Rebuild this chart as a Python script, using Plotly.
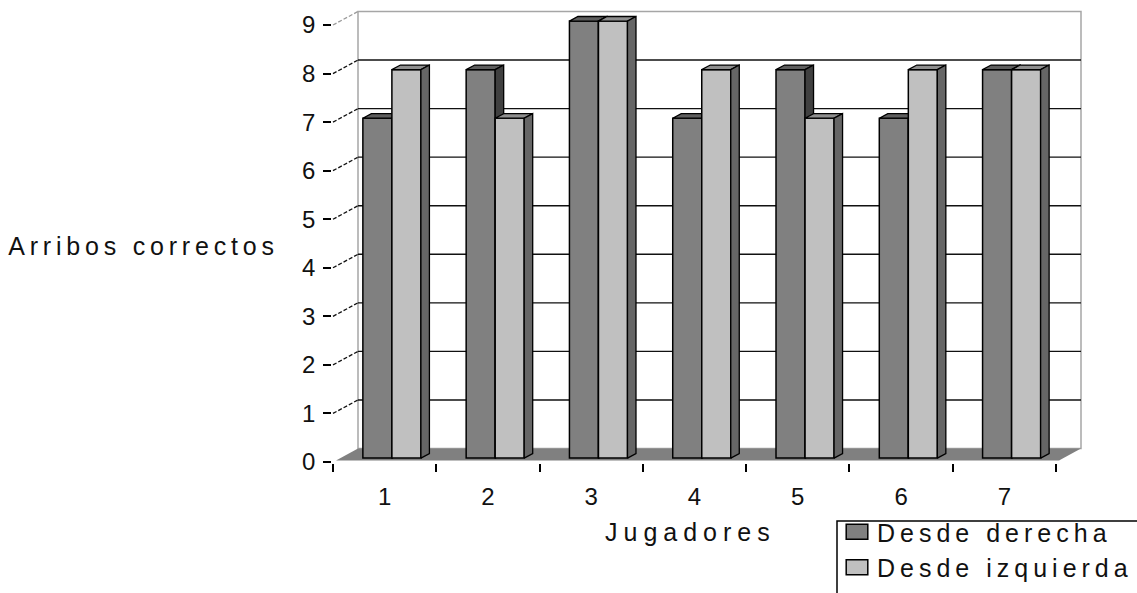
import plotly.graph_objects as go

# ---- data -------------------------------------------------------------
jugadores = ["1", "2", "3", "4", "5", "6", "7"]
desde_derecha = [7, 8, 9, 7, 8, 7, 8]
desde_izquierda = [8, 7, 9, 8, 7, 8, 8]
y_ticks = list(range(10))

# ---- canvas / pseudo-3D frame geometry --------------------------------
W, H = 1137, 593
FX0, FX1 = 333, 1056          # front x axis, pixel span
FY0, FY9 = 462, 25            # front y axis, pixel positions of 0 and 9
PX_X = (FX1 - FX0) / 7.0
PX_Y = (FY0 - FY9) / 9.0
X_RANGE = [-FX0 / PX_X, (W - FX0) / PX_X]
Y_RANGE = [-(H - FY0) / PX_Y, FY0 / PX_Y]

DEPTH_X = 25 / PX_X           # depth vector of the box, data units
DEPTH_Y = 13.5 / PX_Y
BAR_FRONT = 0.29              # depth fraction of the bar front faces
BAR_BACK = 0.63               # depth fraction of the bar back faces
BAR_W = 0.281
Y_TOP = 9

DARK = dict(front="#808080", top="#5e5e5e", side="#404040")
LIGHT = dict(front="#c0c0c0", top="#8e8e8e", side="#666666")
FONT = "Liberation Sans, Arial, sans-serif"

ox, oy = BAR_FRONT * DEPTH_X, BAR_FRONT * DEPTH_Y
ddx, ddy = (BAR_BACK - BAR_FRONT) * DEPTH_X, (BAR_BACK - BAR_FRONT) * DEPTH_Y


def faces(centers, values):
    tx, ty, sx, sy = [], [], [], []
    for c, v in zip(centers, values):
        xl, xr = c - BAR_W / 2, c + BAR_W / 2
        top = v + oy
        tx += [xl, xr, xr + ddx, xl + ddx, xl, None]
        ty += [top, top, top + ddy, top + ddy, top, None]
        sx += [xr, xr + ddx, xr + ddx, xr, xr, None]
        sy += [oy, oy + ddy, top + ddy, top, oy, None]
    return tx, ty, sx, sy


fig = go.Figure()

series = [
    ("Desde derecha", desde_derecha, -BAR_W / 2, DARK),
    ("Desde izquierda", desde_izquierda, BAR_W / 2, LIGHT),
]
z = 1
for name, vals, shift, col in series:
    centers = [i + 0.5 + shift + ox for i in range(len(jugadores))]
    fig.add_trace(go.Bar(
        x=centers, y=vals, base=[oy] * len(vals), width=BAR_W, name=name,
        marker=dict(color=col["front"], line=dict(color="black", width=1.5)),
        hoverinfo="skip", zorder=z, xaxis="x", yaxis="y"))
    tx, ty, sx, sy = faces(centers, vals)
    for fx, fy, fc in ((tx, ty, col["top"]), (sx, sy, col["side"])):
        fig.add_trace(go.Scatter(
            x=fx, y=fy, mode="lines", fill="toself", fillcolor=fc,
            line=dict(color="black", width=1.3), showlegend=False,
            hoverinfo="skip", zorder=z + 1, xaxis="x", yaxis="y"))
    z += 2

# category axis carrier for the front frame (draws nothing itself)
fig.add_trace(go.Scatter(x=jugadores, y=[None] * len(jugadores), mode="markers",
                         showlegend=False, hoverinfo="skip",
                         xaxis="x2", yaxis="y2"))

# ---- walls, floor and gridlines ---------------------------------------
shapes = [
    dict(type="rect", xref="x", yref="y", layer="below",
         x0=DEPTH_X, x1=7 + DEPTH_X, y0=DEPTH_Y, y1=Y_TOP + DEPTH_Y,
         fillcolor="white", line=dict(color="#a6a6a6", width=1.5)),
]
for k in y_ticks[1:-1]:
    shapes.append(dict(type="line", xref="x", yref="y", layer="below",
                       x0=DEPTH_X, x1=7 + DEPTH_X, y0=k + DEPTH_Y, y1=k + DEPTH_Y,
                       line=dict(color="#111111", width=1.4)))
for k in y_ticks[1:]:
    shapes.append(dict(type="line", xref="x", yref="y", layer="below",
                       x0=0, x1=DEPTH_X, y0=k, y1=k + DEPTH_Y,
                       line=dict(color="#111111" if k < Y_TOP else "#9a9a9a",
                                 width=1.3, dash="4px,2px")))
f = 0.12
shapes.append(dict(
    type="path", xref="x", yref="y", layer="below",
    path=(f"M{f * DEPTH_X},{f * DEPTH_Y} L{7 + f * DEPTH_X},{f * DEPTH_Y} "
          f"L{7 + DEPTH_X},{DEPTH_Y} L{DEPTH_X},{DEPTH_Y} Z"),
    fillcolor="#808080", line=dict(width=0)))
# legend frame
shapes.append(dict(type="rect", xref="paper", yref="paper", layer="above",
                   x0=837 / W, x1=1.05, y0=-0.05, y1=1 - 521 / H,
                   fillcolor="white", line=dict(color="black", width=1.5)))

fig.update_layout(
    width=W, height=H, margin=dict(l=0, r=0, t=0, b=0, autoexpand=False),
    paper_bgcolor="white", plot_bgcolor="rgba(0,0,0,0)",
    barmode="overlay", shapes=shapes,
    font=dict(family=FONT, size=25, color="#111111"),
    xaxis=dict(domain=[0, 1], range=X_RANGE, visible=False, fixedrange=True),
    yaxis=dict(domain=[0, 1], range=Y_RANGE, visible=False, fixedrange=True),
    xaxis2=dict(domain=[FX0 / W, FX1 / W], anchor="y2", type="category",
                categoryorder="array", categoryarray=jugadores,
                range=[-0.5, 6.5], tickson="boundaries", ticks="outside",
                ticklen=8, tickwidth=1.5, tickcolor="black", showline=True,
                linecolor="black", linewidth=1.5, showgrid=False,
                ticklabelstandoff=12, tickfont=dict(family=FONT, size=24),
                fixedrange=True),
    yaxis2=dict(domain=[(H - FY0) / H, (H - FY9) / H], anchor="x2",
                range=[0, Y_TOP], tickvals=y_ticks, ticks="outside", ticklen=8,
                tickwidth=1.5, tickcolor="black", showline=True,
                linecolor="black", linewidth=1.5, showgrid=False,
                zeroline=False, ticklabelstandoff=3,
                tickfont=dict(family=FONT, size=24), fixedrange=True),
    legend=dict(x=837 / W, y=1 - 509 / H, xanchor="left", yanchor="top",
                bgcolor="rgba(0,0,0,0)", borderwidth=0,
                font=dict(family=FONT, size=25, color="#111111"),
                tracegroupgap=0),
    annotations=[
        dict(text="Arribos correctos", xref="paper", yref="paper",
             x=143.5 / W, y=1 - 246 / H, showarrow=False,
             xanchor="center", yanchor="middle"),
        dict(text="Jugadores", xref="paper", yref="paper",
             x=690 / W, y=1 - 532 / H, showarrow=False,
             xanchor="center", yanchor="middle"),
    ],
)

spacing_js = """
var gd = document.getElementById('{plot_id}');
gd.querySelectorAll('.legend, .legend *').forEach(function (el) {
  el.removeAttribute('clip-path');
});
gd.querySelectorAll('.legendtext').forEach(function (t) {
  t.style.letterSpacing = '5px';
});
gd.querySelectorAll('.legendpoints path').forEach(function (p) {
  var tr = p.getAttribute('transform') || '';
  p.setAttribute('transform', tr + ' scale(1.8,1.25)');
  p.style.vectorEffect = 'non-scaling-stroke';
});
gd.querySelectorAll('.annotation-text').forEach(function (t) {
  t.style.letterSpacing = t.textContent.indexOf('Jugadores') >= 0 ? '6px' : '4.8px';
});
"""

fig.write_html("out.html", post_script=spacing_js, config={"displayModeBar": False})
